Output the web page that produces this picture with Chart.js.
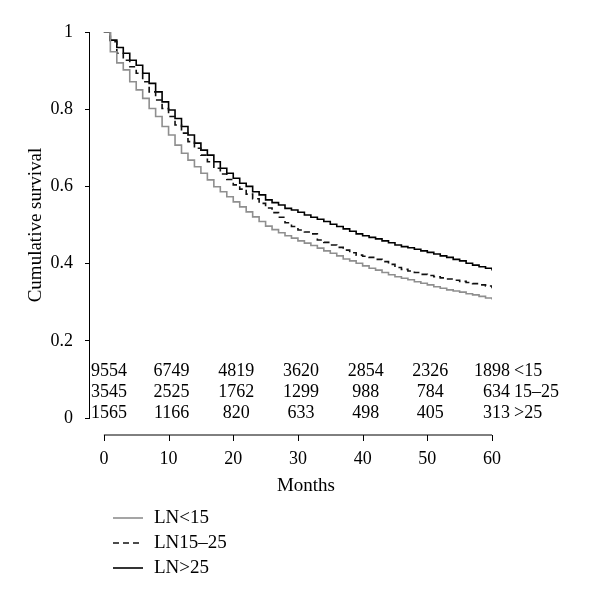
<!DOCTYPE html>
<html>
<head>
<meta charset="utf-8">
<script src="https://cdn.jsdelivr.net/npm/chart.js@4"></script>
<style>
  body { margin: 0; background: #fff; }
  #wrap { width: 600px; height: 596px; }
</style>
</head>
<body>
<div id="wrap"><canvas id="survChart" width="600" height="596"></canvas></div>
<script>
// survival by month (0..60)
const survLow = [1, 0.949, 0.920, 0.902, 0.871, 0.850, 0.828, 0.802, 0.781, 0.755, 0.733,
  0.707, 0.686, 0.668, 0.651, 0.634, 0.617, 0.599, 0.586, 0.573, 0.560,
  0.547, 0.534, 0.521, 0.509, 0.497, 0.488, 0.480, 0.472, 0.466, 0.459,
  0.453, 0.447, 0.440, 0.433, 0.427, 0.420, 0.412, 0.407, 0.401, 0.394,
  0.388, 0.383, 0.377, 0.371, 0.366, 0.362, 0.358, 0.353, 0.349, 0.345,
  0.340, 0.336, 0.332, 0.329, 0.326, 0.322, 0.319, 0.315, 0.311, 0.307];
const survMid = [1, 0.975, 0.945, 0.927, 0.910, 0.893, 0.871, 0.845, 0.824, 0.802, 0.781,
  0.759, 0.738, 0.716, 0.699, 0.681, 0.664, 0.647, 0.632, 0.618, 0.604,
  0.593, 0.580, 0.568, 0.556, 0.544, 0.532, 0.520, 0.506, 0.496, 0.487,
  0.482, 0.477, 0.461, 0.455, 0.448, 0.442, 0.435, 0.428, 0.422, 0.419,
  0.416, 0.411, 0.405, 0.398, 0.390, 0.385, 0.381, 0.377, 0.372, 0.369,
  0.366, 0.363, 0.360, 0.357, 0.354, 0.351, 0.348, 0.345, 0.342, 0.336];
const survHigh = [1, 0.979, 0.960, 0.945, 0.927, 0.914, 0.893, 0.867, 0.845, 0.819, 0.798,
  0.776, 0.755, 0.733, 0.712, 0.694, 0.681, 0.664, 0.647, 0.634, 0.621,
  0.608, 0.600, 0.586, 0.578, 0.565, 0.558, 0.552, 0.543, 0.539, 0.533,
  0.526, 0.520, 0.515, 0.509, 0.502, 0.496, 0.490, 0.484, 0.477, 0.472,
  0.468, 0.464, 0.459, 0.454, 0.448, 0.444, 0.441, 0.437, 0.433, 0.429,
  0.425, 0.420, 0.416, 0.411, 0.407, 0.401, 0.396, 0.392, 0.388, 0.382];

const seriesLabels = ['LN<15', 'LN15\u201325', 'LN>25'];

// numbers at risk
const riskMonths = [0, 10, 20, 30, 40, 50, 60];
const riskLow = [9554, 6749, 4819, 3620, 2854, 2326, 1898];
const riskMid = [3545, 2525, 1762, 1299, 988, 784, 634];
const riskHigh = [1565, 1166, 820, 633, 498, 405, 313];
const riskLabels = ['<15', '15\u201325', '>25'];

const xTicks = [0, 10, 20, 30, 40, 50, 60];

const FONT = "'Liberation Serif', 'DejaVu Serif', serif";
Chart.defaults.font.family = FONT;
Chart.defaults.font.size = 18;
Chart.defaults.color = '#000';

const toPoints = arr => arr.map((v, i) => ({ x: i, y: v }));

/* ===== draws x axis, risk table and legend ===== */
const extrasPlugin = {
  id: 'extras',
  afterDraw(chart) {
    const { ctx } = chart;
    const xs = chart.scales.x;
    const axisY = 435;
    ctx.save();
    ctx.strokeStyle = '#000';
    ctx.lineWidth = 1;

    // x axis line with ticks below it
    ctx.beginPath();
    ctx.moveTo(xs.getPixelForValue(xTicks[0]), axisY);
    ctx.lineTo(xs.getPixelForValue(xTicks[xTicks.length - 1]), axisY);
    xTicks.forEach(t => {
      const px = Math.round(xs.getPixelForValue(t)) + 0.5;
      ctx.moveTo(px, axisY);
      ctx.lineTo(px, axisY + 6);
    });
    ctx.stroke();

    ctx.fillStyle = '#000';
    ctx.font = `18px ${FONT}`;
    ctx.textBaseline = 'middle';
    ctx.textAlign = 'center';
    xTicks.forEach(t => ctx.fillText(String(t), xs.getPixelForValue(t), 459));
    ctx.font = `19px ${FONT}`;
    ctx.fillText('Months', xs.getPixelForValue(30) + 8, 486);

    // numbers at risk
    ctx.font = `18px ${FONT}`;
    const rows = [riskLow, riskMid, riskHigh];
    const rowY = [371, 392, 413];
    rows.forEach((row, r) => {
      row.forEach((n, i) => {
        const px = xs.getPixelForValue(riskMonths[i]);
        if (i === 0) {
          ctx.textAlign = 'left';
          ctx.fillText(String(n), px - 13, rowY[r]);
        } else if (i === row.length - 1) {
          ctx.textAlign = 'right';
          ctx.fillText(String(n), px + 18, rowY[r]);
        } else {
          ctx.textAlign = 'center';
          ctx.fillText(String(n), px + 3, rowY[r]);
        }
      });
      ctx.textAlign = 'left';
      ctx.fillText(riskLabels[r], xs.getPixelForValue(60) + 22, rowY[r]);
    });

    // legend
    ctx.font = `19px ${FONT}`;
    chart.data.datasets.forEach((ds, i) => {
      const y = 518 + i * 25;
      ctx.strokeStyle = ds.borderColor;
      ctx.lineWidth = ds.borderWidth;
      ctx.setLineDash(ds.borderDash || []);
      ctx.beginPath();
      ctx.moveTo(113, y);
      ctx.lineTo(143, y);
      ctx.stroke();
      ctx.setLineDash([]);
      ctx.textAlign = 'left';
      ctx.fillText(ds.label, 154, y);
    });
    ctx.restore();
  }
};

const ctx = document.getElementById('survChart');
new Chart(ctx, {
  type: 'line',
  data: {
    datasets: [
      { label: seriesLabels[0], data: toPoints(survLow), borderColor: '#8f8f8f', borderWidth: 1.6 },
      { label: seriesLabels[1], data: toPoints(survMid), borderColor: '#111', borderWidth: 1.6, borderDash: [6, 4] },
      { label: seriesLabels[2], data: toPoints(survHigh), borderColor: '#000', borderWidth: 1.6 }
    ]
  },
  options: {
    responsive: false,
    animation: false,
    layout: { padding: { top: 32, right: 108, left: 0, bottom: 0 } },
    elements: { point: { radius: 0 }, line: { stepped: true, tension: 0 } },
    plugins: { legend: { display: false }, tooltip: { enabled: false } },
    scales: {
      x: {
        type: 'linear',
        min: -2.3,
        max: 60,
        grid: { display: false },
        border: { display: false },
        ticks: { display: false },
        afterFit: s => { s.height = 596 - 418; }
      },
      y: {
        min: 0,
        max: 1,
        ticks: {
          stepSize: 0.2,
          padding: 12,
          font: { size: 18 },
          callback: v => String(+v.toFixed(1))
        },
        grid: { drawOnChartArea: false, tickLength: 4, color: '#000' },
        border: { display: true, color: '#000', width: 1 },
        title: {
          display: true,
          text: 'Cumulative survival',
          font: { size: 19 },
          padding: { top: 25, bottom: 0 }
        },
        afterFit: s => { s.width = 89; }
      }
    }
  },
  plugins: [extrasPlugin]
});
</script>
</body>
</html>
